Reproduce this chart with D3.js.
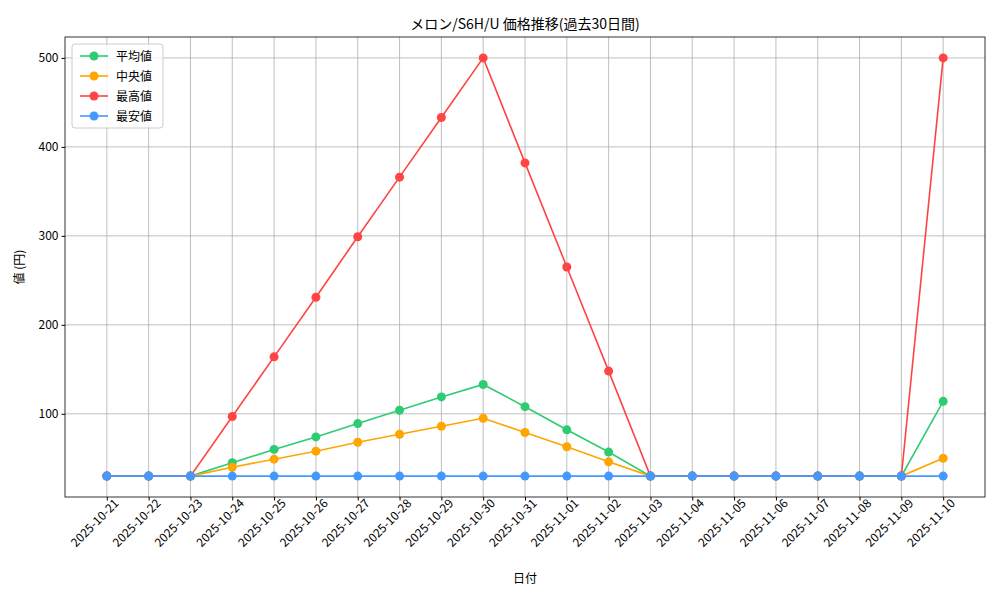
<!DOCTYPE html>
<html><head><meta charset="utf-8">
<script src="https://cdn.jsdelivr.net/npm/d3@7"></script>
<style>body{margin:0;background:#fff}text{font-family:"Noto Sans CJK JP","DejaVu Sans",sans-serif}</style>
</head><body><svg id="c" width="1000" height="600"></svg>
<script>
const dates=["2025-10-21","2025-10-22","2025-10-23","2025-10-24","2025-10-25","2025-10-26","2025-10-27","2025-10-28","2025-10-29","2025-10-30","2025-10-31","2025-11-01","2025-11-02","2025-11-03","2025-11-04","2025-11-05","2025-11-06","2025-11-07","2025-11-08","2025-11-09","2025-11-10"];
const avgVals=[30,30,30,45,60,74,89,104,119,133,108,82,57,30,30,30,30,30,30,30,114];
const medVals=[30,30,30,40,49,58,68,77,86,95,79,63,46,30,30,30,30,30,30,30,50];
const maxVals=[30,30,30,97,164,231,299,366,433,500,382,265,148,30,30,30,30,30,30,30,500];
const minVals=[30,30,30,30,30,30,30,30,30,30,30,30,30,30,30,30,30,30,30,30,30];
const yTicks=[100,200,300,400,500];
const seriesNames=["平均値","中央値","最高値","最安値"];
const colors=["#2ecc71","#ffa500","#ff4444","#4499ff"];
const series=[avgVals,medVals,maxVals,minVals];

const svg=d3.select("#c");
const L=65,R=985,T=37,B=497;
const x=d3.scaleLinear().domain([-1,dates.length]).range([L,R]);
const y=d3.scaleLinear().domain([6.5,523.5]).range([B,T]);
// grid
svg.append("g").selectAll("line").data(dates).join("line")
 .attr("x1",(d,i)=>x(i)).attr("x2",(d,i)=>x(i)).attr("y1",T).attr("y2",B).attr("stroke","#b0b0b0").attr("stroke-width",0.8);
svg.append("g").selectAll("line").data(yTicks).join("line")
 .attr("x1",L).attr("x2",R).attr("y1",d=>y(d)).attr("y2",d=>y(d)).attr("stroke","#b0b0b0").attr("stroke-width",0.8);
// axes
const xa=svg.append("g").attr("transform",`translate(0,${B})`).call(d3.axisBottom(x).tickValues(d3.range(dates.length)).tickFormat(i=>dates[i]).tickSizeOuter(0).tickSize(3.5));
xa.selectAll("text").attr("font-size",12).attr("fill","#000").attr("text-anchor","end").attr("dx","0.3em").attr("dy","0.6em").attr("transform","rotate(-45)");
const ya=svg.append("g").attr("transform",`translate(${L},0)`).call(d3.axisLeft(y).tickValues(yTicks).tickSizeOuter(0).tickSize(3.5));
ya.selectAll("text").attr("font-size",12).attr("fill","#000");
svg.selectAll(".domain").remove();
svg.append("rect").attr("x",L).attr("y",T).attr("width",R-L).attr("height",B-T).attr("fill","none").attr("stroke","#000").attr("stroke-width",0.8);
// lines
const line=d3.line().x((d,i)=>x(i)).y(d=>y(d));
series.forEach((s,k)=>{
 svg.append("path").datum(s).attr("d",line).attr("fill","none").attr("stroke",colors[k]).attr("stroke-width",1.6);
 svg.append("g").selectAll("circle").data(s).join("circle").attr("cx",(d,i)=>x(i)).attr("cy",d=>y(d)).attr("r",4.5).attr("fill",colors[k]);
});
// labels
svg.append("text").attr("x",(L+R)/2).attr("y",29).attr("text-anchor","middle").attr("font-size",14).text("メロン/S6H/U 価格推移(過去30日間)");
svg.append("text").attr("x",(L+R)/2).attr("y",583).attr("text-anchor","middle").attr("font-size",12).text("日付");
svg.append("text").attr("transform",`translate(24,${(T+B)/2}) rotate(-90)`).attr("text-anchor","middle").attr("font-size",12).text("値 (円)");
// legend
const lg=svg.append("g").attr("transform","translate(72,44)");
lg.append("rect").attr("width",91).attr("height",84).attr("rx",3).attr("fill","#fff").attr("fill-opacity",0.8).attr("stroke","#ccc");
seriesNames.forEach((n,k)=>{
 const yy=12+k*20;
 lg.append("line").attr("x1",8).attr("x2",36).attr("y1",yy).attr("y2",yy).attr("stroke",colors[k]).attr("stroke-width",1.6);
 lg.append("circle").attr("cx",22).attr("cy",yy).attr("r",4.5).attr("fill",colors[k]);
 lg.append("text").attr("x",44).attr("y",yy+4.5).attr("font-size",12).text(n);
});
</script></body></html>
